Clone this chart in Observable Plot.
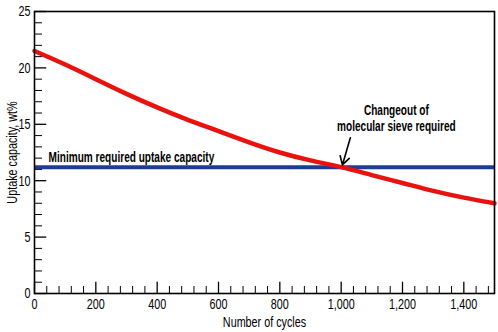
<!DOCTYPE html>
<html><head><meta charset="utf-8">
<script src="https://cdn.jsdelivr.net/npm/d3@7"></script>
<script src="https://cdn.jsdelivr.net/npm/@observablehq/plot@0.6"></script>
<style>
html,body{margin:0;padding:0;background:#fff;}
svg{display:block;}
</style>
</head><body><div id="chart"></div>
<script>
// Data
const cycles   = [0, 100, 200, 300, 400, 500, 600, 700, 800, 900, 1000, 1100, 1200, 1300, 1400, 1500];
const capacity = [21.5, 20.3, 19.0, 17.7, 16.5, 15.4, 14.4, 13.4, 12.5, 11.8, 11.2, 10.5, 9.8, 9.1, 8.5, 8.0];
const minimumCapacity = 11.2;
const xMajorTicks = [0, 200, 400, 600, 800, 1000, 1200, 1400];
const xMinorTicks = d3.range(0, 1500, 40);
const yMajorTicks = [0, 5, 10, 15, 20, 25];
const yMinorTicks = d3.range(0, 25, 1);
const minLabel = "Minimum required uptake capacity";
const changeLabel = "Changeout of\nmolecular sieve required";

const curveData = cycles.map((c, i) => ({c, v: capacity[i]}));
const font = "'Liberation Sans', Arial, sans-serif";

const chart = Plot.plot({
  width: 498, height: 332,
  marginLeft: 34, marginRight: 4, marginTop: 11, marginBottom: 39,
  style: {fontFamily: font, fontSize: "14px", color: "#000", background: "#fff"},
  x: {domain: [0, 1500]},
  y: {domain: [0, 25]},
  marks: [
    // inward ticks
    Plot.ruleX(xMinorTicks.filter(d => !xMajorTicks.includes(d)), {x: d => d, y1: 0, y2: 0.62, stroke: "#000", strokeWidth: 1}),
    Plot.ruleX(xMajorTicks, {x: d => d, y1: 0, y2: 1.0, stroke: "#000", strokeWidth: 1.3}),
    Plot.ruleY(yMinorTicks.filter(d => !yMajorTicks.includes(d)), {y: d => d, x1: 0, x2: 26, stroke: "#000", strokeWidth: 1}),
    Plot.ruleY(yMajorTicks, {y: d => d, x1: 0, x2: 40, stroke: "#000", strokeWidth: 1.3}),
    Plot.axisX({ticks: xMajorTicks, tickSize: 0, tickPadding: 5, tickFormat: d3.format(","), fontSize: 15, label: null}),
    Plot.axisY({ticks: yMajorTicks, tickSize: 0, tickPadding: 4, fontSize: 15, label: null}),
    Plot.ruleY([minimumCapacity], {stroke: "#1b3d93", strokeWidth: 4}),
    Plot.line(curveData, {x: "c", y: "v", stroke: "#e8130f", strokeWidth: 4.5, curve: "natural"}),
    Plot.text([minLabel], {x: 46, y: 11.7, text: d => d, textAnchor: "start", lineAnchor: "bottom", fontWeight: "bold", fontSize: 14, fill: "#000"}),
    Plot.text([changeLabel], {x: 1180, y: 14.4, text: d => d, textAnchor: "middle", lineAnchor: "bottom", lineHeight: 1.15, fontWeight: "bold", fontSize: 14, fill: "#000"}),
    Plot.arrow([{x1: 1030, y1: 13.8, x2: 1004, y2: 11.4}], {x1: "x1", y1: "y1", x2: "x2", y2: "y2", stroke: "#000", strokeWidth: 1.6, headLength: 9}),
    Plot.text(["Number of cycles"], {frameAnchor: "bottom", dy: 33, text: d => d, fontSize: 15, fill: "#000"}),
    Plot.text(["Uptake capacity, wt%"], {frameAnchor: "left", dx: -22, rotate: -90, textAnchor: "middle", text: d => d, fontSize: 15, fill: "#000"}),
    Plot.frame({stroke: "#000", strokeWidth: 1.6})
  ]
});
// condense the glyphs horizontally (the reference uses a condensed typeface)
d3.select(chart).selectAll("text").each(function() {
  const t = this.getAttribute("transform") || "";
  this.setAttribute("transform", t + " scale(0.72,1)");
});
document.getElementById("chart").append(chart);
</script>
</body></html>
